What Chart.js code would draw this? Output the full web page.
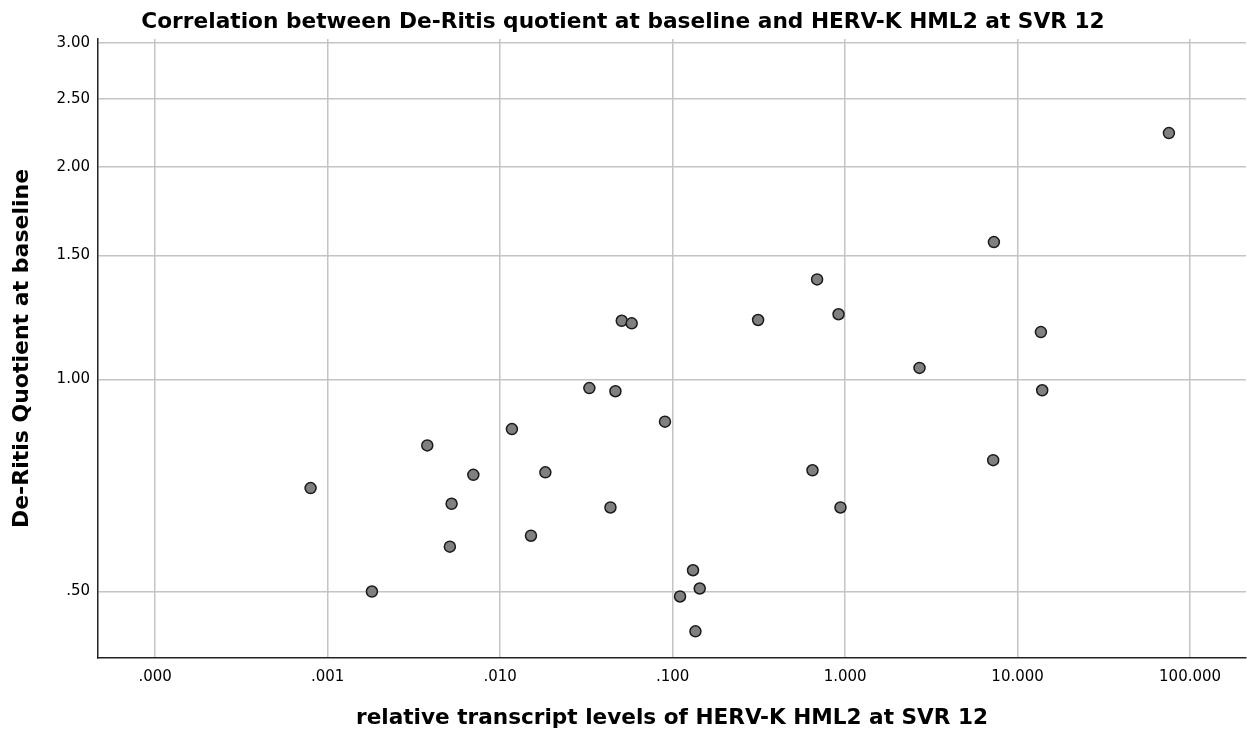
<!DOCTYPE html>
<html>
<head>
<meta charset="utf-8">
<script src="https://cdn.jsdelivr.net/npm/chart.js@4.4.0/dist/chart.umd.min.js"></script>
<style>
  body { margin: 0; background: #fff; }
  canvas { display: block; }
</style>
</head>
<body>
<canvas id="scatter" width="1247" height="733"></canvas>
<script>
// HERV-K HML2 transcript levels at SVR 12 (x) vs De-Ritis quotient at baseline (y)
const hervLevels = [
  75.4, 7.29, 0.688, 0.916, 0.313, 0.0507, 0.0579, 13.65, 2.70, 0.0329,
  0.0466, 13.89, 0.0903, 0.0117, 0.00378, 7.22, 0.647, 0.01829, 0.00699, 0.000796,
  0.00523, 0.0436, 0.940, 0.01509, 0.00511, 0.1313, 0.001805, 0.1436, 0.1104, 0.1356
];
const deRitis = [
  2.236, 1.566, 1.386, 1.237, 1.214, 1.211, 1.201, 1.167, 1.038, 0.972,
  0.962, 0.965, 0.871, 0.850, 0.806, 0.768, 0.743, 0.738, 0.732, 0.701,
  0.666, 0.658, 0.658, 0.600, 0.579, 0.536, 0.500, 0.505, 0.492, 0.439
];

const xTicks = [0.0001, 0.001, 0.01, 0.1, 1, 10, 100];
const xTickLabels = ['.000', '.001', '.010', '.100', '1.000', '10.000', '100.000'];
const yTicks = [0.5, 1, 1.5, 2, 2.5, 3];
const yTickLabels = ['.50', '1.00', '1.50', '2.00', '2.50', '3.00'];

const points = hervLevels.map((x, i) => ({ x: x, y: deRitis[i] }));

const FONT = 'DejaVu Sans';
const gridStyle = { color: '#c4c4c4', lineWidth: 1.5, drawTicks: false };
const borderStyle = { color: '#222', width: 1.5 };

new Chart(document.getElementById('scatter'), {
  type: 'scatter',
  data: {
    datasets: [{
      data: points,
      pointRadius: 5.5,
      pointHoverRadius: 5.5,
      pointBackgroundColor: '#808080',
      pointBorderColor: '#1a1a1a',
      pointBorderWidth: 1.5
    }]
  },
  options: {
    responsive: false,
    animation: false,
    layout: { autoPadding: false, padding: { right: 1 } },
    plugins: {
      legend: { display: false },
      tooltip: { enabled: false },
      title: {
        display: true,
        text: 'Correlation between De-Ritis quotient at baseline and HERV-K HML2 at SVR 12',
        color: '#000',
        font: { family: FONT, size: 21.7, weight: 'bold' },
        padding: { top: 9, bottom: 4 }
      }
    },
    scales: {
      x: {
        type: 'logarithmic',
        min: 4.66e-5,
        max: 211,
        grid: gridStyle,
        border: borderStyle,
        afterBuildTicks: s => { s.ticks = xTicks.map(v => ({ value: v })); },
        afterFit: s => {
          s.height = 75;
          s.paddingLeft = 0;
          s.paddingRight = 0;
        },
        ticks: {
          padding: 10,
          color: '#000',
          font: { family: FONT, size: 15 },
          maxRotation: 0,
          callback: (v, i) => xTickLabels[i]
        },
        title: {
          display: true,
          text: 'relative transcript levels of HERV-K HML2 at SVR 12',
          color: '#000',
          font: { family: FONT, size: 21.6, weight: 'bold' },
          padding: { bottom: 2 }
        }
      },
      y: {
        type: 'logarithmic',
        min: 0.4024,
        max: 3.04,
        grid: gridStyle,
        border: borderStyle,
        afterBuildTicks: s => { s.ticks = yTicks.map(v => ({ value: v })); },
        afterFit: s => {
          s.width = 98;
          s.paddingTop = 0;
          s.paddingBottom = 0;
        },
        ticks: {
          padding: 8,
          color: '#000',
          font: { family: FONT, size: 15 },
          callback: (v, i) => yTickLabels[i]
        },
        title: {
          display: true,
          text: 'De-Ritis Quotient at baseline',
          color: '#000',
          font: { family: FONT, size: 22, weight: 'bold' },
          padding: { top: 9 }
        }
      }
    }
  }
});
</script>
</body>
</html>
